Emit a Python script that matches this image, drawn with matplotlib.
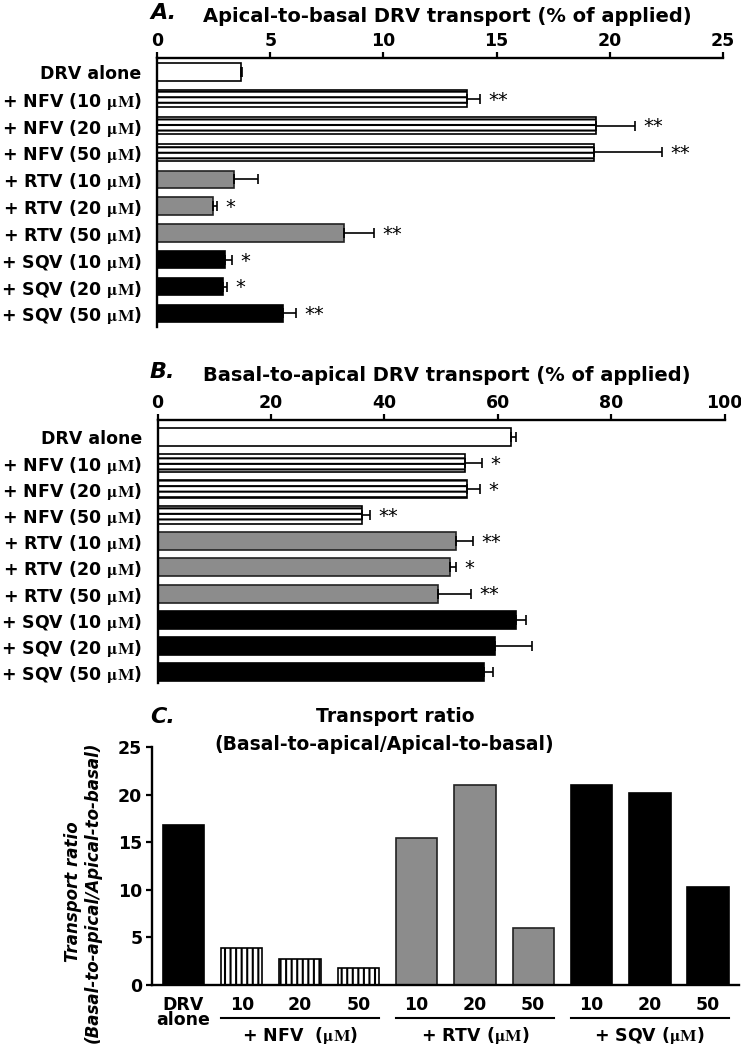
import matplotlib
matplotlib.use("Agg")
import matplotlib.pyplot as plt
import matplotlib.transforms as mtransforms

plt.rcParams['font.family'] = ['DejaVu Sans']
plt.rcParams['font.weight'] = 'bold'
plt.rcParams['mathtext.fontset'] = 'stix'
plt.rcParams['hatch.linewidth'] = 1.5

# ---------------- data ----------------
row_labels = ["DRV alone",
              r"+ NFV (10 $\mathrm{μM}$)", r"+ NFV (20 $\mathrm{μM}$)", r"+ NFV (50 $\mathrm{μM}$)",
              r"+ RTV (10 $\mathrm{μM}$)", r"+ RTV (20 $\mathrm{μM}$)", r"+ RTV (50 $\mathrm{μM}$)",
              r"+ SQV (10 $\mathrm{μM}$)", r"+ SQV (20 $\mathrm{μM}$)", r"+ SQV (50 $\mathrm{μM}$)"]
groups = ["DRV", "NFV", "NFV", "NFV", "RTV", "RTV", "RTV", "SQV", "SQV", "SQV"]

a_values = [3.71, 13.7, 19.4, 19.3, 3.40, 2.46, 8.27, 2.99, 2.93, 5.55]
a_errors = [0.06, 0.55, 1.7, 3.0, 1.05, 0.17, 1.33, 0.31, 0.17, 0.59]
a_stars = ["", "**", "**", "**", "", "*", "**", "*", "*", "**"]
a_ticks = [0, 5, 10, 15, 20, 25]

b_values = [62.3, 54.3, 54.6, 36.1, 52.6, 51.5, 49.5, 63.2, 59.5, 57.6]
b_errors = [0.9, 3.0, 2.3, 1.3, 3.0, 1.1, 5.8, 1.8, 6.5, 1.6]
b_stars = ["", "*", "*", "**", "**", "*", "**", "", "", ""]
b_ticks = [0, 20, 40, 60, 80, 100]

c_values = [16.76, 3.87, 2.70, 1.82, 15.4, 21.0, 6.0, 21.0, 20.2, 10.25]
c_xlabels = ["DRV\nalone", "10", "20", "50", "10", "20", "50", "10", "20", "50"]
c_groups = [r"+ NFV  ($\mathrm{μM}$)", r"+ RTV ($\mathrm{μM}$)", r"+ SQV ($\mathrm{μM}$)"]
c_ticks = [0, 5, 10, 15, 20, 25]

GRAY = "#8c8c8c"
style_ab = {"DRV": dict(color="white", edgecolor="black", hatch=None),
            "NFV": dict(color="white", edgecolor="black", hatch="---"),
            "RTV": dict(color=GRAY, edgecolor="#222222", hatch=None),
            "SQV": dict(color="black", edgecolor="black", hatch=None)}
style_c = {"DRV": dict(color="black", edgecolor="black", hatch=None),
           "NFV": dict(color="white", edgecolor="black", hatch="|||"),
           "RTV": dict(color=GRAY, edgecolor="#222222", hatch=None),
           "SQV": dict(color="black", edgecolor="black", hatch=None)}

W, H = 741, 1050
fig = plt.figure(figsize=(W / 100, H / 100), dpi=100)


def rect(x0, y0, x1, y1):
    return [x0 / W, 1 - y1 / H, (x1 - x0) / W, (y1 - y0) / H]


def hbar_panel(r, values, errors, stars, ticks, ylim, height, letter, title, title_y):
    ax = fig.add_axes(rect(*r))
    ypos = list(range(len(values)))
    for y, v, e, g in zip(ypos, values, errors, groups):
        st = style_ab[g]
        ax.barh(y, v, height=height, color=st["color"], edgecolor=st["edgecolor"],
                hatch=st["hatch"], linewidth=1.2, zorder=2)
        ax.errorbar(v, y, xerr=[[0], [e]], fmt="none", ecolor="black",
                    elinewidth=1.2, capsize=3.5, capthick=1.2, zorder=3)
        if stars[y]:
            ax.annotate(stars[y], xy=(v + e, y), xytext=(6, -1), textcoords="offset points",
                        ha="left", va="center", fontsize=14, fontweight="normal")
    ax.set_xlim(ticks[0], ticks[-1])
    ax.set_ylim(*ylim)
    ax.set_xticks(ticks)
    ax.xaxis.tick_top()
    ax.tick_params(axis="x", direction="out", length=4, width=1.6, pad=1.5, labelsize=12.5)
    ax.set_yticks(ypos)
    ax.set_yticklabels(row_labels, fontsize=12.5)
    ax.tick_params(axis="y", length=0, pad=11)
    for s in ["right", "bottom"]:
        ax.spines[s].set_visible(False)
    for s in ["top", "left"]:
        ax.spines[s].set_linewidth(1.7)
    fig.text(150 / W, 1 - title_y / H, letter, fontsize=16, fontweight="bold",
             fontstyle="italic", ha="left", va="center")
    fig.text(203 / W, 1 - (title_y + 3) / H, title, fontsize=14, ha="left", va="center")
    return ax


hbar_panel((157, 58, 723, 327), a_values, a_errors, a_stars, a_ticks,
           (9.51, -0.52), 0.65, "A.", "Apical-to-basal DRV transport (% of applied)", 13)
hbar_panel((157.5, 420, 724.5, 683), b_values, b_errors, b_stars, b_ticks,
           (9.43, -0.65), 0.69, "B.", "Basal-to-apical DRV transport (% of applied)", 372)

# ---------------- panel C ----------------
axc = fig.add_axes(rect(152, 747, 739, 985))
xpos = list(range(len(c_values)))
bw = 0.71
for x, v, g in zip(xpos, c_values, groups):
    st = style_c[g]
    axc.bar(x, v, width=bw, color=st["color"], edgecolor=st["edgecolor"],
            hatch=st["hatch"], linewidth=1.2, zorder=2)
axc.set_xlim(-0.54, 9.53)
axc.set_ylim(0, 25)
axc.set_yticks(c_ticks)
axc.tick_params(axis="y", direction="out", length=4, width=1.6, labelsize=12.5, pad=3)
axc.set_xticks(xpos)
axc.set_xticklabels(c_xlabels, fontsize=12.5, linespacing=0.8)
axc.tick_params(axis="x", length=0, pad=8)
for s in ["right", "top"]:
    axc.spines[s].set_visible(False)
for s in ["left", "bottom"]:
    axc.spines[s].set_linewidth(1.7)

trans = mtransforms.blended_transform_factory(axc.transData, axc.transAxes)
for gi, label in enumerate(c_groups):
    first = 1 + 3 * gi
    axc.plot([first - bw / 2, first + 2 + bw / 2], [-0.139, -0.139], color="black",
             lw=1.5, transform=trans, clip_on=False)
    axc.text(first + 1, -0.214, label, transform=trans, ha="center", va="center",
             fontsize=12.5)

axc.set_ylabel("Transport ratio\n(Basal-to-apical/Apical-to-basal)", fontsize=12,
               fontweight="bold", fontstyle="italic", linespacing=1.15)
axc.yaxis.set_label_coords(-0.085, 0.39)

fig.text(150 / W, 1 - 717 / H, "C.", fontsize=16, fontweight="bold",
         fontstyle="italic", ha="left", va="center")
fig.text(395 / W, 1 - 717 / H, "Transport ratio", fontsize=13.5, ha="center", va="center")
fig.text(384 / W, 1 - 745 / H, "(Basal-to-apical/Apical-to-basal)", fontsize=13.5,
         ha="center", va="center")

fig.savefig("out.png", dpi=100)
